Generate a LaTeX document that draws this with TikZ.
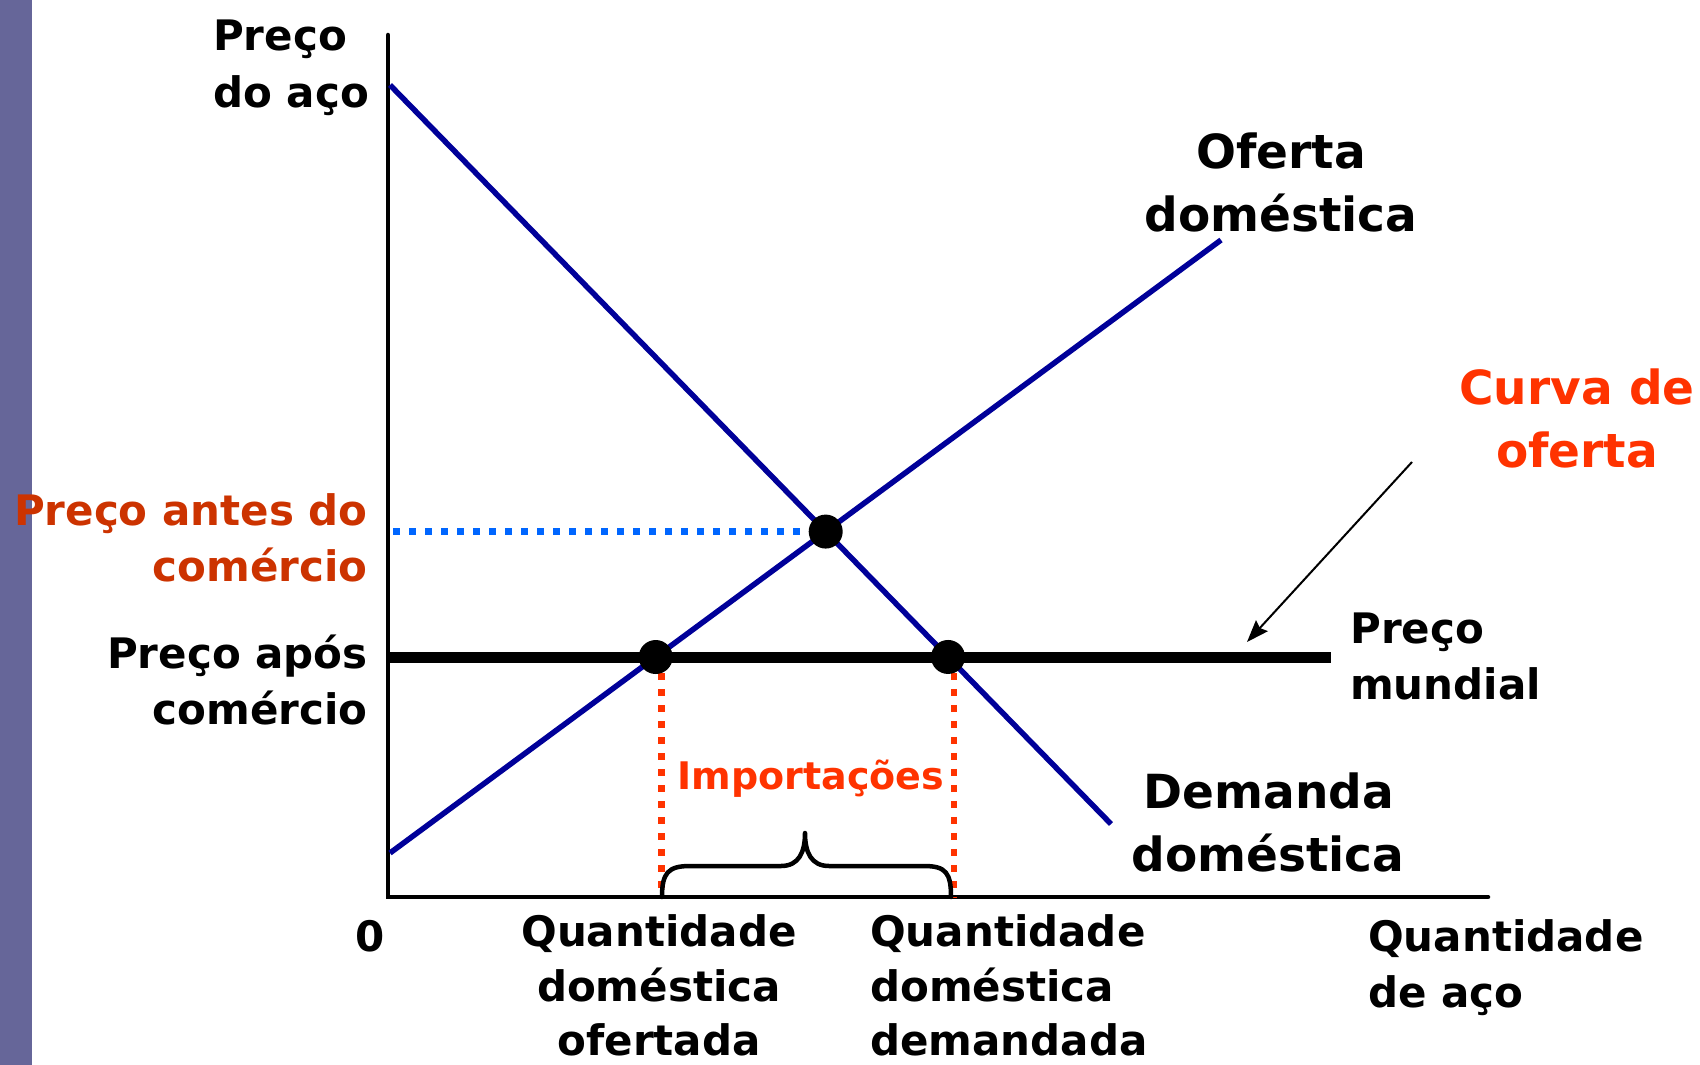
\documentclass[tikz,border=0pt]{standalone}
\usepackage{fontspec}
\setmainfont{DejaVu Sans}
\usetikzlibrary{arrows.meta,intersections}
\definecolor{barcol}{HTML}{666699}
\definecolor{navy}{HTML}{000099}
\definecolor{redo}{HTML}{FF3300}
\definecolor{rust}{HTML}{CC3300}
\definecolor{dotblue}{HTML}{0066FF}
\tikzset{
  lab/.style={font=\bfseries\fontsize{42}{56}\selectfont, inner sep=0pt},
  biglab/.style={font=\bfseries\fontsize{47}{63}\selectfont, inner sep=0pt},
  implab/.style={font=\bfseries\fontsize{38}{46}\selectfont, inner sep=0pt, text=redo},
  curveline/.style={draw=navy, line width=5.5pt},
  axisline/.style={draw=black, line width=4.5pt, line cap=round, line join=miter},
  worldline/.style={draw=black, line width=11pt},
  dotpt/.style={circle, fill=black, minimum size=34pt, inner sep=0pt},
  reddots/.style={draw=redo, line width=6.5pt, dash pattern=on 7pt off 9pt},
  bluedots/.style={draw=dotblue, line width=6.5pt, dash pattern=on 7pt off 9pt},
  bracestyle/.style={draw=black, line width=4.5pt, line cap=round, line join=round},
  pointer/.style={draw=black, line width=2pt, -{Stealth[length=22pt,width=16pt,inset=3pt]}}
}
\begin{document}
\begin{tikzpicture}[x=1pt,y=-1pt]
\useasboundingbox (0,0) rectangle (1700,1065);
\fill[barcol] (0,0) rectangle (32,1065);

% axes
\coordinate (O) at (388,897);
\coordinate (Ytop) at (388,35);
\coordinate (Xend) at (1488,897);
\draw[axisline] (Ytop) -- (O) -- (Xend);

% curve end points
\coordinate (D1) at (390,85);
\coordinate (D2) at (1111,824);
\coordinate (S1) at (390,853);
\coordinate (S2) at (1221,240);
\coordinate (W1) at (388,657);
\coordinate (W2) at (1331,657);

\path[name path=dem] (D1) -- (D2);
\path[name path=sup] (S1) -- (S2);
\path[name path=wld] (W1) -- (W2);
\path[name intersections={of=dem and sup, by=E}];
\path[name intersections={of=sup and wld, by=A}];
\path[name intersections={of=dem and wld, by=B}];

% dotted guides
\coordinate (Ey) at (E -| O);
\draw[bluedots] ([xshift=5pt]Ey) -- (E);
\draw[reddots] ([xshift=6pt]A) -- ([xshift=6pt]A |- O);
\draw[reddots] ([xshift=6pt]B) -- ([xshift=6pt]B |- O);

% curves
\draw[curveline] (D1) -- (D2);
\draw[curveline] (S1) -- (S2);
\draw[worldline] (W1) -- (W2);

% brace
\coordinate (brL) at (662,897);
\coordinate (brR) at (951,897);
\coordinate (brT) at (805,833);
\draw[bracestyle] (brL) .. controls (662,873) and (668,866) .. (690,866)
  -- (781,866) .. controls (799,866) and (805,852) .. (brT)
  .. controls (805,852) and (811,866) .. (829,866)
  -- (924,866) .. controls (946,866) and (951,873) .. (brR);

% dots
\node[dotpt] (dotE) at (E) {};
\node[dotpt] (dotA) at (A) {};
\node[dotpt] (dotB) at (B) {};

% pointer arrow
\coordinate (arS) at (1412,462);
\coordinate (arE) at (1247,642);
\draw[pointer] (arS) -- (arE);

% labels
\node[lab, anchor=base west] (py1) at (213,51) {Preço};
\node[lab, anchor=base west] (py2) at (213,107) {do aço};

\node[biglab, anchor=base] (of1) at (1281,168) {Oferta};
\node[biglab, anchor=base] (of2) at (1281,231) {doméstica};

\node[biglab, anchor=base, text=redo] (cv1) at (1577,404) {Curva de};
\node[biglab, anchor=base, text=redo] (cv2) at (1577,467) {oferta};

\node[lab, anchor=base east, text=rust] (pb1) at (368,525) {Preço antes do};
\node[lab, anchor=base east, text=rust] (pb2) at (368,581) {comércio};

\node[lab, anchor=base east] (pa1) at (368,668) {Preço após};
\node[lab, anchor=base east] (pa2) at (368,724) {comércio};

\node[lab, anchor=base west] (pm1) at (1350,643) {Preço};
\node[lab, anchor=base west] (pm2) at (1350,699) {mundial};

\node[implab, anchor=base] (imp) at (811,789) {Importações};

\node[biglab, anchor=base] (dm1) at (1269,808) {Demanda};
\node[biglab, anchor=base] (dm2) at (1268,871) {doméstica};

\node[lab, anchor=base] (zero) at (370,951) {0};

\node[lab, anchor=base] (qs1) at (659,946) {Quantidade};
\node[lab, anchor=base] (qs2) at (659,1001) {doméstica};
\node[lab, anchor=base] (qs3) at (659,1055) {ofertada};

\node[lab, anchor=base west] (qd1) at (870,946) {Quantidade};
\node[lab, anchor=base west] (qd2) at (870,1001) {doméstica};
\node[lab, anchor=base west] (qd3) at (870,1055) {demandada};

\node[lab, anchor=base west] (qa1) at (1368,951) {Quantidade};
\node[lab, anchor=base west] (qa2) at (1368,1007) {de aço};
\end{tikzpicture}
\end{document}
